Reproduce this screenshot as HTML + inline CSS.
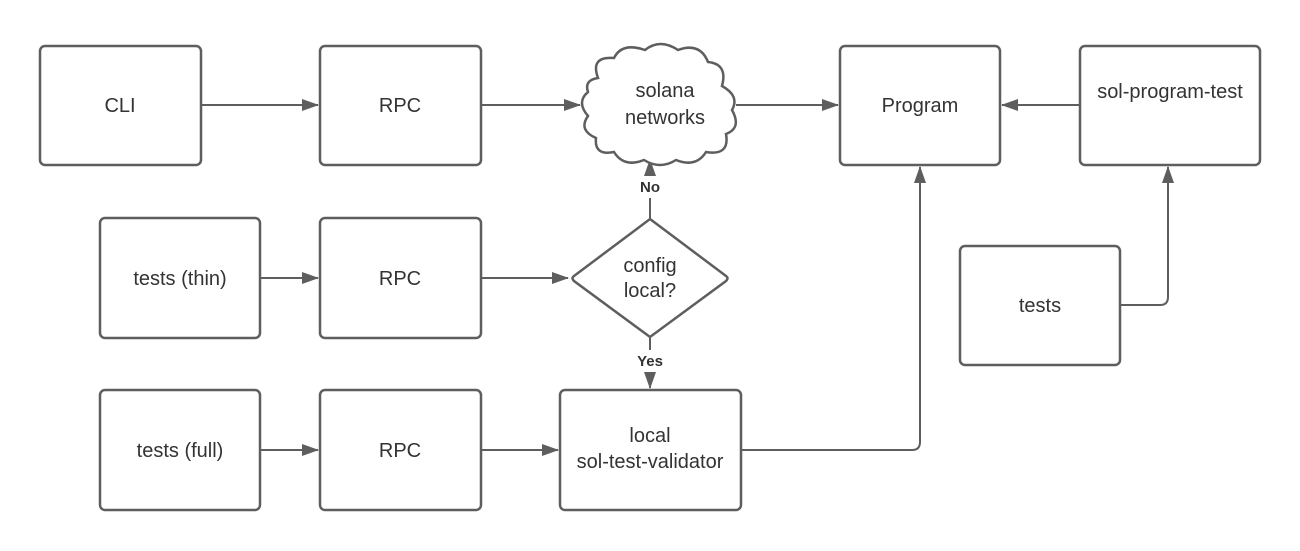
<!DOCTYPE html>
<html><head><style>
body{margin:0;background:#fff}
svg{display:block}
text{font-family:"Liberation Sans",sans-serif;font-size:20px;fill:#333;text-anchor:middle}
.b{fill:#fff;stroke:#5e5e5e;stroke-width:2.5}
.l{fill:none;stroke:#5e5e5e;stroke-width:2}
.lb{font-size:15px;font-weight:bold}
</style></head><body>
<svg width="1300" height="551" viewBox="0 0 1300 551">
<defs><marker id="a" markerWidth="17" markerHeight="12" refX="16" refY="6" orient="auto" markerUnits="userSpaceOnUse"><path d="M0,0 L17,6 L0,12Z" fill="#5e5e5e"/></marker></defs>
<path class="l" d="M201,105H318" marker-end="url(#a)"/>
<path class="l" d="M481,105H580" marker-end="url(#a)"/>
<path class="l" d="M736,105H838" marker-end="url(#a)"/>
<path class="l" d="M1080,105H1002" marker-end="url(#a)"/>
<path class="l" d="M260,278H318" marker-end="url(#a)"/>
<path class="l" d="M481,278H568" marker-end="url(#a)"/>
<path class="l" d="M650,218V198"/>
<path class="l" d="M650,176V160" marker-end="url(#a)"/>
<path class="l" d="M650,338V350"/>
<path class="l" d="M650,372V388" marker-end="url(#a)"/>
<path class="l" d="M260,450H318" marker-end="url(#a)"/>
<path class="l" d="M481,450H558" marker-end="url(#a)"/>
<path class="l" d="M741,450H912Q920,450 920,442V167" marker-end="url(#a)"/>
<path class="l" d="M1120,305H1160Q1168,305 1168,297V167" marker-end="url(#a)"/>
<rect class="b" x="40" y="46" width="161" height="119" rx="5"/>
<rect class="b" x="320" y="46" width="161" height="119" rx="5"/>
<rect class="b" x="840" y="46" width="160" height="119" rx="5"/>
<rect class="b" x="1080" y="46" width="180" height="119" rx="5"/>
<rect class="b" x="100" y="218" width="160" height="120" rx="5"/>
<rect class="b" x="320" y="218" width="161" height="120" rx="5"/>
<rect class="b" x="960" y="246" width="160" height="119" rx="5"/>
<rect class="b" x="100" y="390" width="160" height="120" rx="5"/>
<rect class="b" x="320" y="390" width="161" height="120" rx="5"/>
<rect class="b" x="560" y="390" width="181" height="120" rx="5"/>
<path class="b" d="M650,219 L726,276 Q729,278 726,281 L650,337 L574,281 Q571,278 574,276Z"/>
<path class="b" d="M598,78 Q590,56 614,58 Q622,42 645,50 Q660,38 678,50 Q700,42 708,62 Q728,64 722,86 Q740,96 732,110 Q742,128 726,134 Q730,156 706,152 Q696,168 676,160 Q660,170 644,160 Q624,168 614,152 Q594,156 596,138 Q578,130 588,116 Q576,102 588,92 Q584,80 598,78Z"/>
<text x="120" y="112">CLI</text>
<text x="400" y="112">RPC</text>
<text x="920" y="112">Program</text>
<text x="1170" y="98">sol-program-test</text>
<text x="180" y="285">tests (thin)</text>
<text x="400" y="285">RPC</text>
<text x="1040" y="312">tests</text>
<text x="180" y="457">tests (full)</text>
<text x="400" y="457">RPC</text>
<text x="650" y="442">local</text>
<text x="650" y="468">sol-test-validator</text>
<text x="650" y="272">config</text>
<text x="650" y="297">local?</text>
<text x="665" y="97">solana</text>
<text x="665" y="124">networks</text>
<text class="lb" x="650" y="192">No</text>
<text class="lb" x="650" y="366">Yes</text>
</svg>
</body></html>
